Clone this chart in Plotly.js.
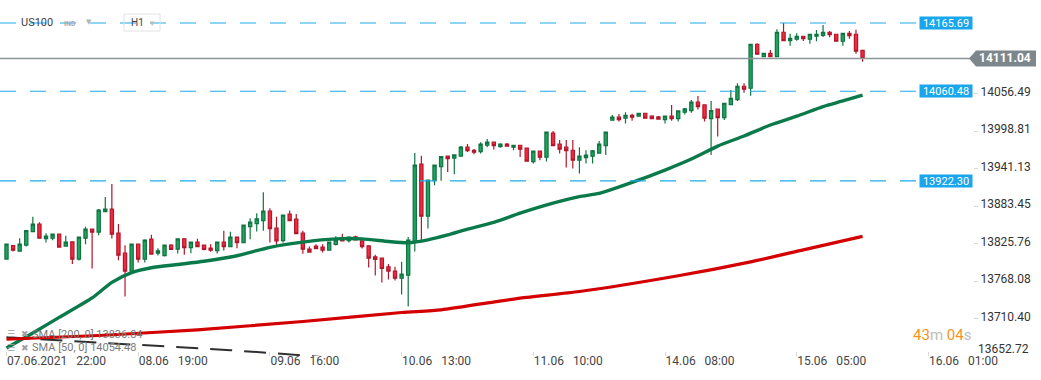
<!DOCTYPE html>
<html>
<head>
<meta charset="utf-8">
<script src="https://cdn.plot.ly/plotly-3.0.1.min.js"></script>
<style>
  html, body { margin: 0; padding: 0; background: #ffffff; }
  #chart { width: 1041px; height: 380px; }
</style>
</head>
<body>
<div id="chart"></div>
<script>
// ---- Data (US100, H1) ----
const openP = [13801.8,13822.7,13814.1,13823.3,13844.3,13855.7,13833.5,13834.1,13840.3,13821.8,
13828.4,13801.8,13834.1,13848.0,13843.4,13875.1,13878.8,13841.8,13811.0,13783.3,
13824.9,13801.8,13832.6,13811.0,13807.3,13823.3,13817.2,13833.0,13819.6,13828.0,
13823.3,13818.7,13815.0,13828.0,13821.2,13835.7,13827.3,13852.0,13856.6,13861.2,
13875.7,13849.5,13830.4,13871.1,13863.4,13841.8,13817.2,13821.8,13820.3,13815.6,
13824.3,13834.1,13830.4,13836.1,13830.0,13822.3,13805.3,13803.3,13789.9,13783.3,
13772.5,13777.1,13828.4,13948.1,13868.0,13922.8,13944.4,13960.4,13957.3,13960.4,
13974.3,13969.6,13967.5,13977.3,13982.0,13975.2,13978.9,13974.3,13977.3,13972.7,
13952.1,13968.1,13958.9,13995.8,13978.9,13974.3,13969.6,13954.2,13958.2,13960.4,
13965.0,13976.7,14015.8,14020.5,14018.9,14023.5,14022.0,14026.6,14022.0,14020.9,
14016.8,14022.0,14018.3,14028.2,14030.6,14043.6,14039.4,14018.3,14032.8,14019.8,
14039.9,14047.6,14068.2,14065.1,14132.9,14113.8,14119.0,14113.8,14151.4,14138.4,
14140.6,14145.2,14140.6,14145.2,14146.7,14151.4,14148.3,14137.5,14149.8,14148.3,
14123.6];
const highP = [13824.9,13822.7,13834.1,13845.8,13866.9,13858.8,13841.8,13840.3,13840.3,13837.7,
13828.4,13835.7,13851.5,13848.0,13879.2,13897.7,13917.7,13856.1,13823.3,13824.9,
13824.9,13832.6,13839.2,13818.7,13823.3,13824.9,13833.0,13833.0,13828.0,13833.0,
13823.3,13824.9,13828.0,13845.4,13843.8,13835.7,13854.1,13864.9,13872.6,13905.0,
13880.3,13866.9,13869.5,13876.6,13871.5,13845.4,13821.2,13824.9,13824.9,13828.0,
13837.2,13840.7,13835.7,13837.7,13830.0,13822.3,13808.4,13803.3,13794.1,13789.9,
13797.6,13835.7,13965.5,13960.9,13923.4,13946.5,13959.8,13961.3,13962.4,13976.3,
13979.3,13971.6,13982.0,13987.0,13982.0,13980.4,13980.9,13977.3,13977.3,13972.7,
13968.1,13968.1,13997.4,13999.4,13985.5,13985.5,13985.5,13974.3,13969.6,13970.1,
13984.0,13997.4,14024.0,14025.5,14028.2,14026.0,14026.6,14026.6,14023.5,14022.5,
14022.0,14039.4,14030.2,14034.8,14047.1,14053.3,14039.4,14045.6,14032.8,14042.0,
14062.5,14072.8,14072.8,14132.9,14134.4,14119.0,14124.1,14156.0,14165.69,14149.2,
14149.8,14145.2,14148.3,14154.9,14162.6,14153.4,14148.3,14149.8,14153.4,14155.4,
14123.6];
const lowP = [13801.8,13813.5,13814.1,13821.2,13844.3,13834.1,13827.3,13831.0,13820.3,13821.8,
13794.1,13799.6,13824.9,13787.3,13838.7,13875.1,13833.5,13800.2,13744.2,13783.3,
13796.5,13796.5,13809.5,13807.3,13805.8,13816.6,13810.4,13808.4,13811.0,13821.2,
13815.6,13813.0,13810.4,13815.0,13821.2,13818.7,13827.3,13832.6,13844.3,13845.4,
13827.3,13823.8,13827.3,13861.2,13841.2,13809.9,13812.6,13818.1,13811.9,13815.6,
13822.7,13830.0,13827.3,13831.5,13818.1,13788.8,13776.5,13765.7,13770.4,13768.8,
13747.3,13728.8,13813.5,13827.3,13848.9,13915.7,13922.4,13936.2,13932.7,13960.4,
13967.0,13963.5,13964.4,13974.3,13970.6,13973.6,13975.8,13969.6,13959.3,13952.7,
13949.0,13954.2,13952.1,13976.7,13964.4,13942.8,13941.3,13933.6,13949.0,13949.0,
13965.0,13962.4,14015.8,14013.7,14010.6,14015.2,14022.0,14018.9,14018.3,14017.4,
14010.6,14015.2,14013.7,14024.5,14027.5,14032.2,14013.7,13962.4,13990.6,14016.3,
14039.9,14045.6,14058.3,14053.7,14117.5,14113.8,14113.8,14113.8,14138.4,14130.7,
14138.4,14138.0,14133.8,14137.5,14144.1,14143.7,14137.5,14130.7,14141.5,14118.4,
14106.1];
const closeP = [13824.9,13815.6,13824.9,13845.8,13855.7,13834.1,13837.2,13840.3,13820.3,13828.0,
13801.8,13835.7,13848.0,13843.4,13877.2,13878.8,13840.3,13807.9,13783.3,13824.9,
13801.8,13831.0,13809.5,13814.6,13823.3,13816.6,13833.0,13819.6,13828.0,13821.2,
13816.6,13815.6,13828.0,13821.2,13835.7,13827.3,13854.1,13858.8,13863.8,13875.7,
13848.9,13830.0,13869.5,13861.2,13841.2,13817.2,13812.6,13818.1,13815.6,13828.0,
13831.5,13830.0,13835.7,13831.5,13821.2,13803.3,13801.2,13787.3,13783.3,13772.5,
13778.7,13831.0,13946.5,13868.0,13923.4,13946.5,13959.8,13956.7,13962.4,13974.3,
13969.0,13966.6,13978.9,13982.0,13976.7,13978.9,13975.8,13977.3,13971.2,13952.7,
13968.1,13958.9,13997.4,13976.7,13971.2,13969.0,13954.2,13960.4,13961.9,13968.6,
13978.9,13997.4,14020.5,14016.8,14023.5,14020.5,14026.6,14018.9,14018.3,14017.4,
14022.0,14018.3,14030.2,14033.2,14043.6,14036.8,14018.9,14030.6,14019.8,14042.0,
14049.7,14068.2,14063.6,14132.9,14117.5,14119.0,14113.8,14151.4,14138.4,14142.1,
14145.2,14141.5,14148.3,14148.3,14151.4,14147.7,14137.5,14149.8,14146.1,14122.1,
14111.04];

// moving averages (read at selected candle indices)
const sma50Idx = [0,4,8,13,16,19,22,26,30,35,40,45,50,54,58,61,64,67,70,74,78,83,87,90,95,100,104,108,112,116,120,124,127,130];
const sma50 = [13664.7,13688,13712,13742,13766,13781,13788.5,13793.5,13798.5,13807,13820,13828,13833,13833,13829,13827,13831.5,13839,13848,13858.5,13872.6,13888,13898,13903,13920,13939,13956,13976,13991.5,14008.5,14022,14036.8,14045.5,14054.48];
const sma200Idx = [0,14,29,45,60,66,78,87,102,113,121,130];
const sma200 = [13678.3,13684.1,13692.9,13705.7,13719.5,13723.7,13741.7,13751.9,13776.1,13797.6,13816.1,13836.84];
const dashIdx = [0,14,25,34,45,60];
const dashVals = [13681.3,13672.9,13666.7,13661.5,13653.5,13640.0];

// axis ticks
const xTickIdx = [0,20,40,60,80,100,120,140];
const xTickText = ["07.06.2021\u00a0\u00a0\u00a022:00","08.06\u00a0\u00a0\u00a019:00","09.06\u00a0\u00a0\u00a016:00","10.06\u00a0\u00a0\u00a013:00","11.06\u00a0\u00a0\u00a010:00","14.06\u00a0\u00a0\u00a008:00","15.06\u00a0\u00a0\u00a005:00","16.06\u00a0\u00a0\u00a001:00"];
const yTicks = [14056.49,13998.81,13941.13,13883.45,13825.76,13768.08,13710.40];
const yTickText = ["14056.49","13998.81","13941.13","13883.45","13825.76","13768.08","13710.40"];
const yBottomTick = [13652.72];
const yBottomText = ["13652.72"];

// horizontal levels
const levels = [14165.69, 14060.48, 13922.30];
const levelText = ["14165.69","14060.48","13922.30"];
const lastPrice = 14111.04;
const lastPriceText = "14111.04";
const legendRows = ["SMA [200, 0] 13836.84", "SMA [50, 0] 14054.48"];

// ---- Layout helpers ----
const W = 1041, H = 380;
const mL = 0, mR = 68, mT = 0, mB = 24;
const PW = W - mL - mR, PH = H - mT - mB;
const px = x => x / PW;              // pixel x -> paper
const py = y => (PH - y) / PH;       // pixel y -> paper
const FONT = "Roboto, 'DejaVu Sans', sans-serif";

const idx = openP.map((_, i) => i);

const traces = [
  {
    type: 'scatter', mode: 'lines', x: sma200Idx, y: sma200, yaxis: 'y2',
    line: {color: '#d40000', width: 3.2, shape: 'spline', smoothing: 0.6},
    hoverinfo: 'skip'
  },
  {
    type: 'scatter', mode: 'lines', x: dashIdx, y: dashVals,
    line: {color: '#2f2f2f', width: 2, dash: '22px,12px'},
    hoverinfo: 'skip'
  },
  {
    type: 'scatter', mode: 'lines', x: sma50Idx, y: sma50,
    line: {color: '#0a7a4a', width: 3.4, shape: 'spline', smoothing: 0.6},
    hoverinfo: 'skip'
  },
  {
    type: 'candlestick', x: idx, open: openP, high: highP, low: lowP, close: closeP,
    increasing: {line: {color: '#0f7440', width: 1.2}, fillcolor: '#22a262'},
    decreasing: {line: {color: '#b3162b', width: 1.2}, fillcolor: '#f22b40'},
    whiskerwidth: 0, hoverinfo: 'skip'
  }
];

const yRange = [13652.5, 14201.1];

const shapes = [];
levels.forEach(v => {
  shapes.push({type: 'line', xref: 'paper', yref: 'y', x0: 0, x1: px(919), y0: v, y1: v,
    line: {color: '#1fa9ec', width: 1.2, dash: '16px,14px'}});
});
shapes.push({type: 'line', xref: 'paper', yref: 'y', x0: 0, x1: px(972), y0: lastPrice, y1: lastPrice,
  line: {color: '#8c9598', width: 1.4}});
shapes.push({type: 'path', xref: 'paper', yref: 'y', xsizemode: 'pixel', ysizemode: 'pixel',
  xanchor: 1, yanchor: lastPrice,
  path: 'M -4 0 L 3 8 L 63 8 L 63 -8 L 3 -8 Z',
  fillcolor: '#7d878b', line: {width: 0}});
// H1 selector box
shapes.push({type: 'rect', xref: 'paper', yref: 'paper', x0: px(124), x1: px(160), y0: py(31), y1: py(14),
  line: {color: '#e2e2e2', width: 1}, fillcolor: 'rgba(0,0,0,0)'});

const annotations = [];
levels.forEach((v, k) => {
  annotations.push({xref: 'paper', yref: 'y', x: px(946), y: v, xanchor: 'center', yanchor: 'middle',
    text: levelText[k], showarrow: false, bgcolor: '#1aa6ec', width: 52, height: 12, borderpad: 0,
    font: {family: FONT, size: 11, color: '#ffffff'}});
});
annotations.push({xref: 'paper', yref: 'y', x: px(1005), y: lastPrice, xanchor: 'center', yanchor: 'middle',
  text: '<b>' + lastPriceText + '</b>', showarrow: false,
  font: {family: FONT, size: 12, color: '#ffffff'}});
// top-left instrument header
annotations.push({xref: 'paper', yref: 'paper', x: px(19), y: py(23), xanchor: 'left', yanchor: 'middle',
  text: 'US100', showarrow: false, font: {family: FONT, size: 11, color: '#3f3f3f'}});
annotations.push({xref: 'paper', yref: 'paper', x: px(62), y: py(24), xanchor: 'left', yanchor: 'middle',
  text: '<b>IND</b>', showarrow: false, font: {family: FONT, size: 7, color: '#a3adb3'}});
annotations.push({xref: 'paper', yref: 'paper', x: px(84), y: py(22), xanchor: 'left', yanchor: 'middle',
  text: '\u25BC', showarrow: false, font: {family: FONT, size: 7, color: '#b5b5b5'}});
annotations.push({xref: 'paper', yref: 'paper', x: px(129), y: py(23), xanchor: 'left', yanchor: 'middle',
  text: 'H1', showarrow: false, font: {family: FONT, size: 10, color: '#444444'}});
annotations.push({xref: 'paper', yref: 'paper', x: px(148), y: py(23), xanchor: 'left', yanchor: 'middle',
  text: '\u25BE', showarrow: false, font: {family: FONT, size: 9, color: '#bdbdbd'}});
// indicator legend
const legY = [334, 347.5];
legendRows.forEach((t, k) => {
  annotations.push({xref: 'paper', yref: 'paper', x: px(5), y: py(legY[k]), xanchor: 'left', yanchor: 'middle',
    text: '\u2630', showarrow: false, font: {family: "'DejaVu Sans', sans-serif", size: 9, color: '#a0a0a0'}});
  annotations.push({xref: 'paper', yref: 'paper', x: px(19), y: py(legY[k]), xanchor: 'left', yanchor: 'middle',
    text: '\u2716', showarrow: false, font: {family: "'DejaVu Sans', sans-serif", size: 9, color: '#a0a0a0'}});
  annotations.push({xref: 'paper', yref: 'paper', x: px(30), y: py(legY[k]), xanchor: 'left', yanchor: 'middle',
    text: t, showarrow: false, font: {family: FONT, size: 11, color: '#7a7a7a'}});
});
// candle countdown
annotations.push({xref: 'paper', yref: 'paper', x: px(973), y: py(334.5), xanchor: 'right', yanchor: 'middle',
  text: '<span style="color:#f7931e">43</span><span style="color:#bdbdbd">m</span> <span style="color:#f7931e">04</span><span style="color:#bdbdbd">s</span>',
  showarrow: false, font: {family: FONT, size: 15, color: '#f7931e'}});

const layout = {
  width: W, height: H,
  margin: {l: mL, r: mR, t: mT, b: mB, pad: 0},
  paper_bgcolor: '#ffffff', plot_bgcolor: '#ffffff',
  showlegend: false,
  font: {family: FONT},
  xaxis: {
    range: [-0.987, 146.77], showgrid: false, zeroline: false, showline: false,
    tickmode: 'array', tickvals: xTickIdx, ticktext: xTickText,
    ticks: 'inside', ticklen: 4, tickcolor: '#d8d8d8', tickwidth: 1,
    ticklabelposition: 'outside right', ticklabelstandoff: -4,
    tickfont: {family: FONT, size: 12, color: '#444444'},
    rangeslider: {visible: false}, fixedrange: true
  },
  yaxis: {
    range: yRange, side: 'right', showgrid: false, zeroline: false, showline: false,
    tickmode: 'array', tickvals: yTicks, ticktext: yTickText,
    ticks: 'outside', ticklen: 4, tickcolor: '#d8d8d8', tickwidth: 1,
    ticklabelshift: -2,
    tickfont: {family: FONT, size: 12, color: '#333333'}, fixedrange: true
  },
  yaxis2: {
    range: yRange, side: 'right', overlaying: 'y', showgrid: false, zeroline: false, showline: false,
    tickmode: 'array', tickvals: yBottomTick, ticktext: yBottomText,
    ticks: '', ticklen: 4, ticklabelshift: -7, ticklabelstandoff: 4,
    tickfont: {family: FONT, size: 12, color: '#333333'}, fixedrange: true
  },
  shapes: shapes,
  annotations: annotations
};

Plotly.newPlot('chart', traces, layout, {displayModeBar: false, staticPlot: true});
</script>
</body>
</html>
